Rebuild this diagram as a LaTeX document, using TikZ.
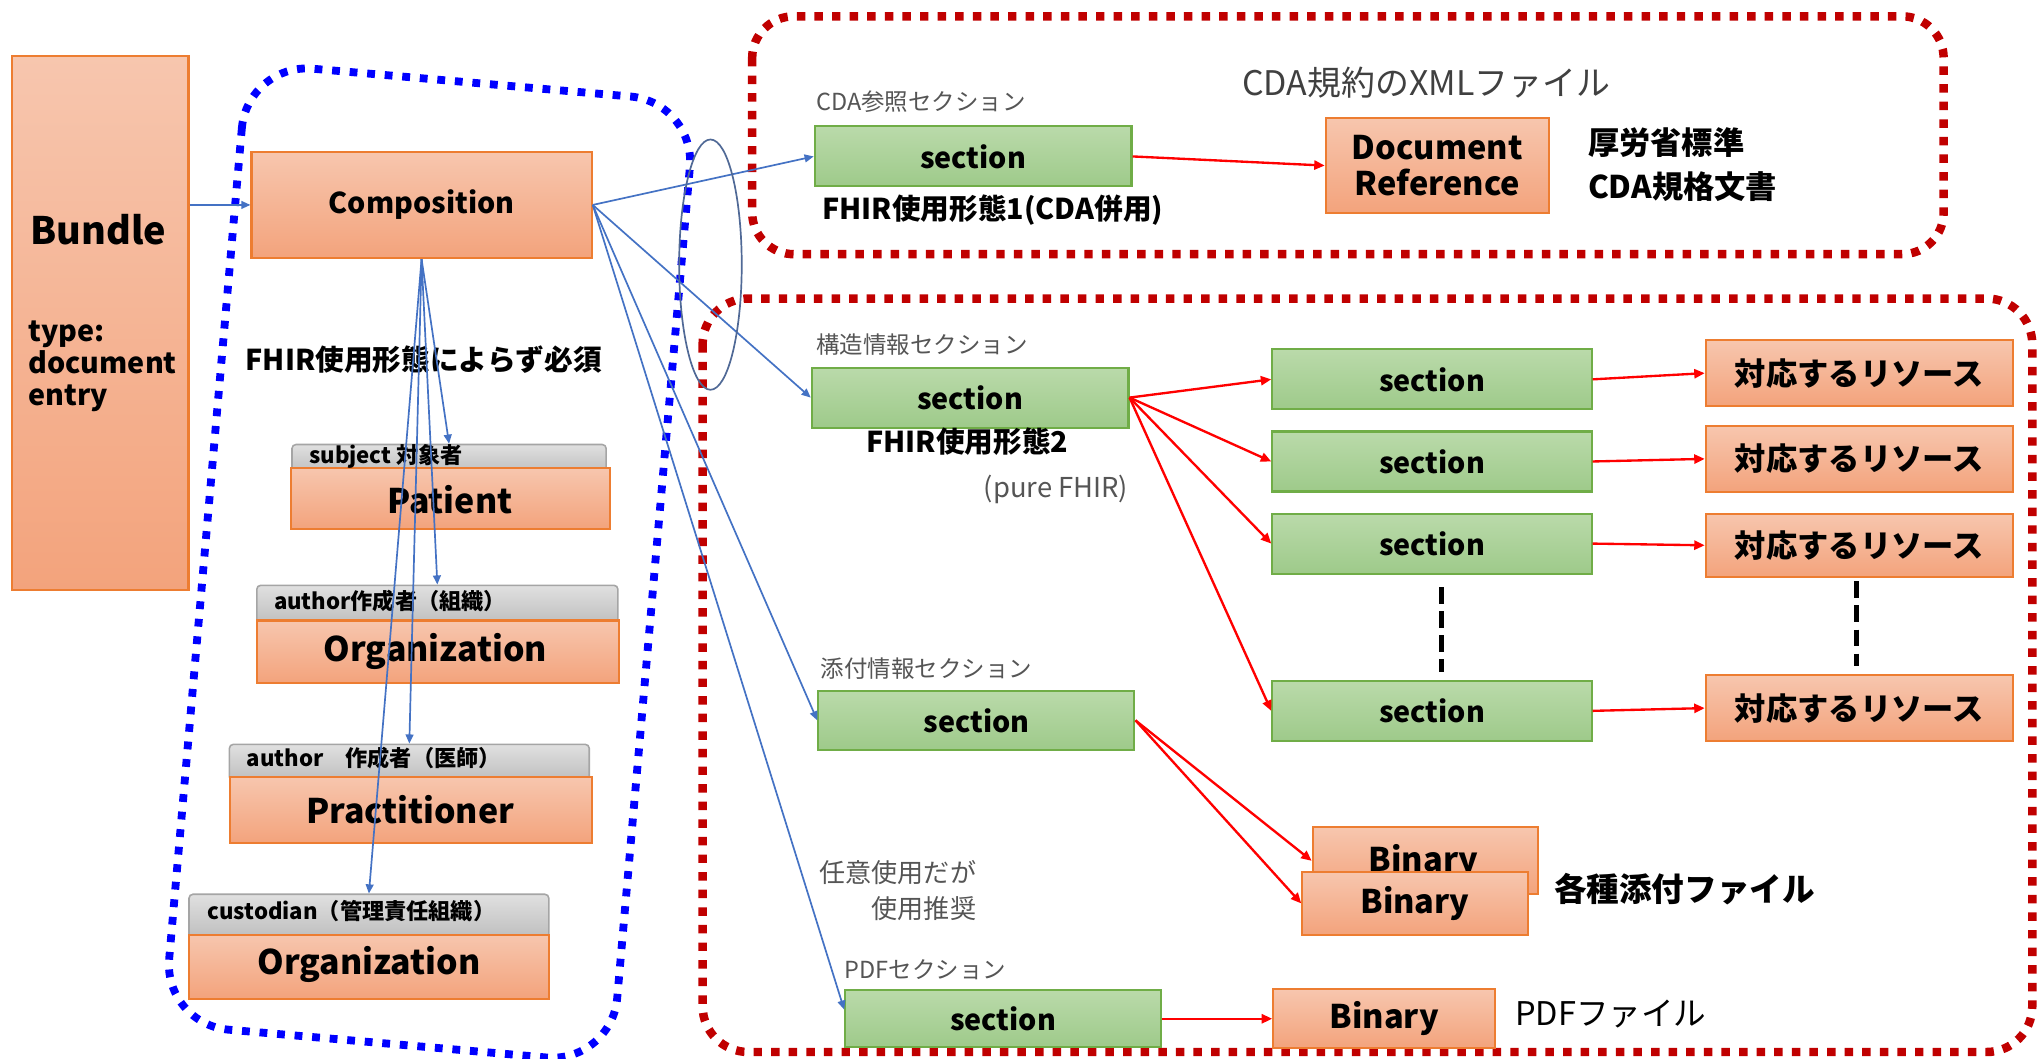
\documentclass[tikz,border=0pt]{standalone}
\usepackage{fontspec}
\setmainfont{Noto Sans CJK JP}
\usetikzlibrary{arrows.meta,calc,shadings}
\definecolor{oB}{RGB}{237,125,49}
\definecolor{oT}{RGB}{247,198,174}
\definecolor{oBt}{RGB}{243,163,124}
\definecolor{gB}{RGB}{112,173,71}
\definecolor{gT}{RGB}{186,218,170}
\definecolor{gBt}{RGB}{158,202,138}
\definecolor{tB}{RGB}{165,165,165}
\definecolor{tT}{RGB}{224,224,224}
\definecolor{tBt}{RGB}{190,190,190}
\definecolor{ab}{RGB}{68,114,196}
\definecolor{dred}{RGB}{192,0,0}
\definecolor{lbl}{RGB}{85,85,85}
\definecolor{ell}{RGB}{80,105,150}
\newcommand\myfs[1]{\fontsize{#1}{#1}\selectfont}
\begin{document}
\begin{tikzpicture}[x=1pt, y={(0pt,-1pt)},
  obox/.style={draw=oB, line width=1.6pt, top color=oT, bottom color=oBt, inner sep=0pt},
  gbox/.style={draw=gB, line width=1.6pt, top color=gT, bottom color=gBt, inner sep=0pt, font=\myfs{22}\bfseries},
  tabbox/.style={draw=tB, line width=1.2pt, top color=tT, bottom color=tBt, rounded corners=3pt, inner sep=0pt},
  tablbl/.style={anchor=west, inner sep=0pt, font=\myfs{17}\bfseries},
  biglbl/.style={inner sep=0pt, font=\myfs{26}\bfseries},
  graylbl/.style={inner sep=0pt, text=lbl, font=\myfs{18}},
  boldlbl/.style={inner sep=0pt, font=\myfs{22}\bfseries},
  reslbl/.style={inner sep=0pt, font=\myfs{24}\bfseries},
  barrow/.style={draw=ab, line width=1.3pt, -{Triangle[length=7pt,width=6pt]}},
  rarrow/.style={draw=red, line width=1.8pt, -{Triangle[length=8pt,width=7pt]}},
  bluedot/.style={draw=blue, line width=6pt, dash pattern=on 6pt off 7.5pt},
  reddot/.style={draw=dred, line width=6.5pt, dash pattern=on 6.5pt off 7pt},
  vdash/.style={draw=black, line width=4pt, dash pattern=on 13pt off 5.5pt}
]
\fill[white] (0,0) rectangle (1568,812);
\useasboundingbox (0,0) rectangle (1568,812);

% ---- frames ----
\draw[bluedot, rounded corners=50pt, rotate around={-5:(330,432)}] (157,62) rectangle (502,802);
\draw[reddot, rounded corners=32pt] (577,12.5) rectangle (1491,195);
\draw[reddot, rounded corners=35pt] (539,229) rectangle (1559,807);

% ---- left column ----
\node[obox, minimum width=135.2pt, minimum height=409.5pt] (bundle) at (77,247.8) {};
\node[biglbl, font=\myfs{29}\bfseries] (bundlelbl) at (75.5,176) {Bundle};
\node[anchor=west, align=left, inner sep=0pt, font=\fontsize{22}{24.5}\selectfont\bfseries] (btype) at (21.6,281) {type:\\document\\entry};

\node[obox, minimum width=261pt, minimum height=81.6pt, font=\myfs{22}\bfseries] (comp) at (323.4,157.2) {Composition};
\node[boldlbl] (must) at (325,275.5) {FHIR使用形態によらず必須};

\node[tabbox, minimum width=241pt, minimum height=22pt] (pattab) at (344.5,352) {};
\node[obox, minimum width=245pt, minimum height=47pt] (patbox) at (345.5,382.5) {};
\node[tablbl] (pattl) at (237,350) {subject 対象者};
\node[biglbl] (patl) at (345,383) {Patient};

\node[tabbox, minimum width=277pt, minimum height=30pt] (orgtab) at (335.5,464) {};
\node[obox, minimum width=278pt, minimum height=48pt] (orgbox) at (336,500) {};
\node[tablbl] (orgtl) at (210,461) {author作成者（組織）};
\node[biglbl] (orgl) at (334,500) {Organization};

\node[tabbox, minimum width=276pt, minimum height=28pt] (prtab) at (314,585) {};
\node[obox, minimum width=277.5pt, minimum height=51pt] (prbox) at (315.25,621.5) {};
\node[tablbl] (prtl) at (189,581.5) {author　作成者（医師）};
\node[biglbl] (prl) at (314.7,621) {Practitioner};

\node[tabbox, minimum width=276pt, minimum height=34pt] (custab) at (283,703) {};
\node[obox, minimum width=276pt, minimum height=49pt] (cusbox) at (283,741.5) {};
\node[tablbl] (custl) at (159,699) {custodian（管理責任組織）};
\node[biglbl] (cusl) at (283,740) {Organization};

% ---- top right ----
\node[graylbl, anchor=west] (cdasec) at (626,77.7) {CDA参照セクション};
\node[gbox, minimum width=243pt, minimum height=46pt] (s1) at (746.5,120) {section};
\node[boldlbl] (use1) at (761.5,161) {FHIR使用形態1(CDA併用)};
\node[inner sep=0pt, text=black!75, font=\myfs{26}] (xml) at (1094,63.6) {CDA規約のXMLファイル};
\node[obox, minimum width=171pt, minimum height=73pt, align=center, font=\fontsize{25}{28}\selectfont\bfseries] (docref) at (1102.5,127) {Document\\Reference};
\node[anchor=west, align=left, inner sep=0pt, font=\fontsize{24}{34}\selectfont\bfseries] (mhlw) at (1218,126) {厚労省標準\\CDA規格文書};

% ---- structured ----
\node[graylbl, anchor=west] (strsec) at (626,264) {構造情報セクション};
\node[gbox, minimum width=243pt, minimum height=46pt] (s2) at (744.2,305) {section};
\node[boldlbl] (use2) at (742,339) {FHIR使用形態2};
\node[inner sep=0pt, text=lbl, font=\myfs{21}] (pure) at (810,375.5) {(pure FHIR)};

\node[gbox, minimum width=245pt, minimum height=46pt] (sub1) at (1098.5,291) {section};
\node[gbox, minimum width=245pt, minimum height=46pt] (sub2) at (1098.5,354) {section};
\node[gbox, minimum width=245pt, minimum height=46pt] (sub3) at (1098.5,417) {section};
\node[gbox, minimum width=245pt, minimum height=46pt] (sub4) at (1098.5,545.3) {section};

\node[obox, reslbl, minimum width=235.5pt, minimum height=50.5pt] (res1) at (1426.25,286.25) {対応するリソース};
\node[obox, reslbl, minimum width=235.5pt, minimum height=50.3pt] (res2) at (1426.25,352) {対応するリソース};
\node[obox, reslbl, minimum width=235.5pt, minimum height=48.6pt] (res3) at (1426.25,418.3) {対応するリソース};
\node[obox, reslbl, minimum width=235.5pt, minimum height=50.3pt] (res4) at (1426.25,543.2) {対応するリソース};

\draw[vdash] ($(sub3.south)+(7,9.5)$) -- ($(sub4.north)+(7,-6)$);
\draw[vdash] ($(res3.south)+(-2,2.5)$) -- ($(res4.north)+(-2,-6)$);

% ---- attachments ----
\node[graylbl, anchor=west] (attsec) at (629.5,512.6) {添付情報セクション};
\node[gbox, minimum width=242.5pt, minimum height=45.3pt] (s3) at (749,552.6) {section};
\node[obox, minimum width=173pt, minimum height=51.3pt] (bin1) at (1093.5,660.35) {};
\node[biglbl, font=\myfs{25}\bfseries] (bin1l) at (1092,661) {Binary};
\node[obox, minimum width=173pt, minimum height=48.6pt, font=\myfs{25}\bfseries] (bin2) at (1085.5,693) {Binary};
\node[inner sep=0pt, anchor=west, font=\myfs{25}\bfseries] (attf) at (1192,682) {各種添付ファイル};

\node[inner sep=0pt, anchor=east, text=lbl, font=\myfs{20}] (opt1) at (749,669) {任意使用だが};
\node[inner sep=0pt, anchor=east, text=lbl, font=\myfs{20}] (opt2) at (749,697) {使用推奨};

% ---- pdf ----
\node[graylbl, anchor=west] (pdfsec) at (648,744) {PDFセクション};
\node[gbox, minimum width=242.2pt, minimum height=44pt] (s4) at (769.5,781.5) {section};
\node[obox, minimum width=170.3pt, minimum height=45pt, font=\myfs{25}\bfseries] (bin3) at (1061.85,781.5) {Binary};
\node[inner sep=0pt, anchor=west, font=\myfs{25}] (pdff) at (1162,778) {PDFファイル};

% ---- connectors ----
\draw[barrow] (comp.west -| bundle.east) -- (comp.west);
\draw[barrow] (comp.south) -- (pattab.north);
\draw[barrow] (comp.south) -- (orgtab.north);
\draw[barrow] (comp.south) -- (prtab.north);
\draw[barrow] (comp.south) -- (custab.north);
\draw[barrow] (comp.east) -- (s1.west);
\draw[barrow] (comp.east) -- (s2.west);
\draw[barrow] (comp.east) -- (s3.west);
\draw[barrow] (comp.east) -- ([yshift=7pt]s4.west);

\draw[draw=ell, line width=1.3pt] (545,203) ellipse [x radius=24, y radius=96];

\draw[rarrow] (s1.east) -- (docref.west);
\draw[rarrow] (s2.east) -- (sub1.west);
\draw[rarrow] (s2.east) -- (sub2.west);
\draw[rarrow] (s2.east) -- (sub3.west);
\draw[rarrow] (s2.east) -- (sub4.west);
\draw[rarrow] (sub1.east) -- (res1.west);
\draw[rarrow] (sub2.east) -- (res2.west);
\draw[rarrow] (sub3.east) -- (res3.west);
\draw[rarrow] (sub4.east) -- (res4.west);
\draw[rarrow] (s3.east) -- (bin1.west);
\draw[rarrow] (s3.east) -- (bin2.west);
\draw[rarrow] (s4.east) -- (bin3.west);
\end{tikzpicture}
\end{document}
